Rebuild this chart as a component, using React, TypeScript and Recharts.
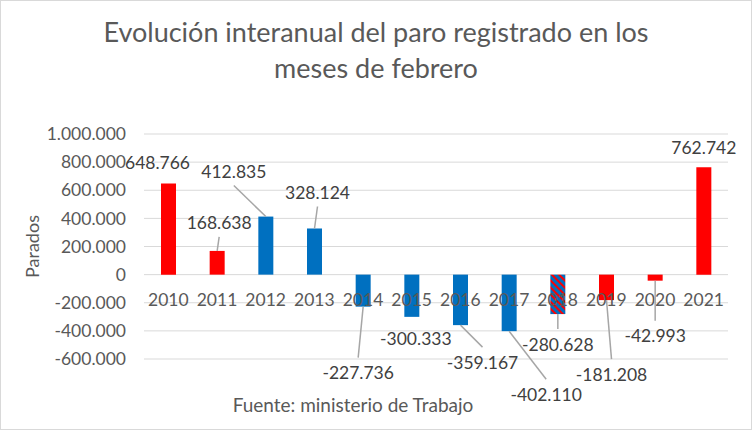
import React from "react";
import { BarChart, Bar, XAxis, YAxis, CartesianGrid, LabelList, Cell } from "recharts";

const YEARS = ["2010", "2011", "2012", "2013", "2014", "2015", "2016", "2017", "2018", "2019", "2020", "2021"];
const PARADOS = [648766, 168638, 412835, 328124, -227736, -300333, -359167, -402110, -280628, -181208, -42993, 762742];
const Y_TICKS = [-600000, -400000, -200000, 0, 200000, 400000, 600000, 800000, 1000000];

const data = YEARS.map((year, i) => ({ year, parados: PARADOS[i] }));

// colour of each bar (2018 uses the striped pattern)
const FILLS = ["#FF0000", "#FF0000", "#0070C0", "#0070C0", "#0070C0", "#0070C0", "#0070C0", "#0070C0", "url(#rayas)", "#FF0000", "#FF0000", "#FF0000"];

// where Excel dragged each data label: nudge from the bar end in px, and whether a leader line shows
const LABEL_NUDGE: [number, number, boolean][] = [
  [-11, -21, false], [2, -28, true], [-32, -45, true], [3, -36, true],
  [-5, 66, true], [4, 22, false], [22, 37, true], [37, 63, true],
  [0, 30, true], [5, 74, true], [0, 55, true], [0, -20, false],
];

const W = 752;
const H = 430;
const M = { top: 134, right: 24, bottom: 70, left: 27 };
const X_AXIS_H = 1;
const Y_MIN = -600000;
const Y_MAX = 1000000;
const FONT = "Lato, 'Open Sans', sans-serif";

const fmt = (v: number) =>
  (v < 0 ? "-" : "") + Math.abs(v).toString().replace(/\B(?=(\d{3})+(?!\d))/g, ".");

// year labels sit just under the zero line, not at the bottom of the plot
const plotH = H - M.top - M.bottom - X_AXIS_H;
const zeroFromBottom = ((0 - Y_MIN) / (Y_MAX - Y_MIN)) * plotH;

const YearTick = (props: any) => {
  const { x, y, payload } = props;
  return (
    <text x={x} y={y - zeroFromBottom + 25} textAnchor="middle" dominantBaseline="central"
      fill="#595959" fontSize={17.5} fontFamily={FONT}>
      {payload.value}
    </text>
  );
};

const ValueLabel = (props: any) => {
  const { x, y, width, height, index, value } = props;
  const cx = x + width / 2;
  const end = value >= 0 ? Math.min(y, y + height) : Math.max(y, y + height);
  const [dx, dy, leader] = LABEL_NUDGE[index];
  const lx = cx + dx;
  const ly = end + dy;
  const ty = value >= 0 ? ly + 14 : ly - 15;
  return (
    <g>
      {leader && <line x1={cx} y1={end} x2={lx} y2={ty} stroke="#a6a6a6" strokeWidth={1.5} />}
      <text x={lx} y={ly} textAnchor="middle" dominantBaseline="central"
        fill="#404040" fontSize={17.5} fontFamily={FONT}>
        {fmt(value)}
      </text>
    </g>
  );
};

export default function App() {
  return (
    <div style={{ position: "absolute", left: 0, top: 0, width: W, height: H, background: "#fff", fontFamily: FONT }}>
      <div style={{ position: "absolute", left: 0, top: 14, width: W, textAlign: "center", color: "#595959", fontSize: 27, lineHeight: "36px" }}>
        Evolución interanual del paro registrado en los
        <br />
        meses de febrero
      </div>
      <BarChart width={W} height={H} data={data} margin={M}>
        <defs>
          <pattern id="rayas" width={5} height={5} patternUnits="userSpaceOnUse" patternTransform="rotate(-45)">
            <rect width={5} height={5} fill="#0070C0" />
            <rect width={2} height={5} fill="#FF0000" />
          </pattern>
        </defs>
        <CartesianGrid vertical={false} stroke="#d9d9d9" />
        <XAxis dataKey="year" height={X_AXIS_H} axisLine={false} tickLine={false} tickSize={0} tickMargin={0}
          tick={(p: any) => <YearTick {...p} />} interval={0} />
        <YAxis domain={[Y_MIN, Y_MAX]} ticks={Y_TICKS} tickFormatter={fmt} width={117}
          axisLine={false} tickLine={false} tickSize={0} tickMargin={18}
          tick={{ fill: "#595959", fontSize: 17.5, fontFamily: FONT }}
          label={{ value: "Parados", angle: -90, position: "insideLeft", offset: 6, fill: "#595959", fontSize: 18, fontFamily: FONT, style: { textAnchor: "middle" } }} />
        <Bar dataKey="parados" barSize={15} isAnimationActive={false}>
          {data.map((d, i) => (
            <Cell key={d.year} fill={FILLS[i]} />
          ))}
          <LabelList dataKey="parados" content={<ValueLabel />} />
        </Bar>
      </BarChart>
      <div style={{ position: "absolute", left: 203, width: 300, top: 393, textAlign: "center", color: "#595959", fontSize: 19 }}>
        Fuente: ministerio de Trabajo
      </div>
      <div style={{ position: "absolute", left: 0, top: 0, width: W, height: H, boxSizing: "border-box", border: "1px solid #d9d9d9", pointerEvents: "none" }} />
    </div>
  );
}
